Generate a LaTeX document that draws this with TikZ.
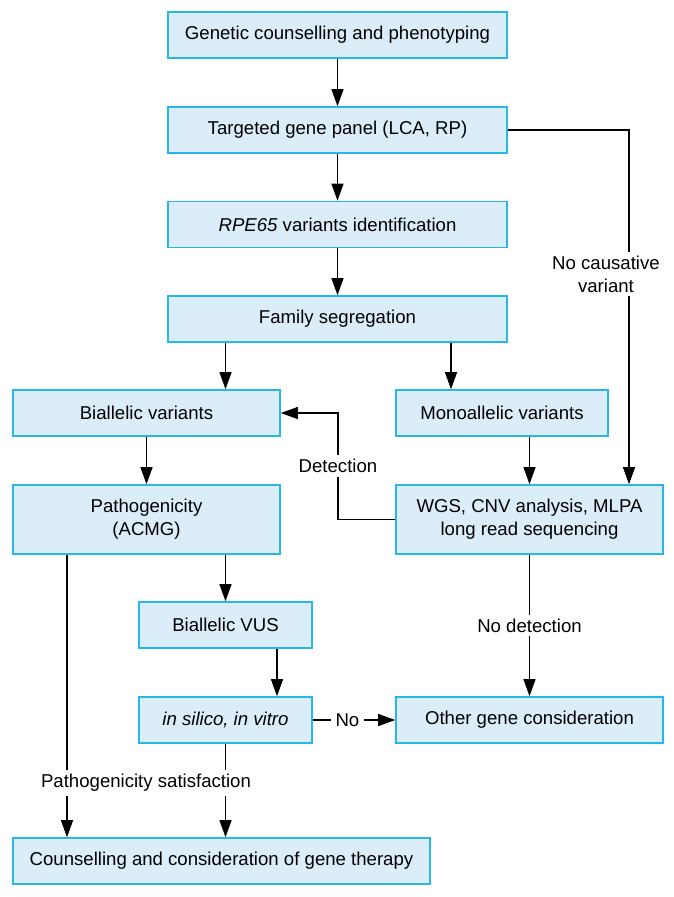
\documentclass[tikz,border=0pt]{standalone}
\usepackage{fontspec}
\setmainfont{Liberation Sans}
\usepackage{tikz}
\usetikzlibrary{positioning,arrows.meta}
\definecolor{boxfill}{RGB}{220,237,250}
\definecolor{boxline}{RGB}{41,182,232}

\begin{document}
\begin{tikzpicture}[
            x=1pt, y=-1pt,
            font=\fontsize{18.6}{23}\selectfont,
            stage/.style={rectangle, draw=boxline, fill=boxfill, line width=1.6pt, minimum height=46pt, inner sep=0pt, align=center},
            link/.style={draw=black, line width=1.1pt, -{Triangle[length=17pt, width=12pt]}},
            tag/.style={fill=white, inner sep=4pt, align=center}
        ]
        
        \useasboundingbox (0,0) rectangle (673,897);
        
        % Main column
        \node[stage, minimum width=339pt] (gcp) at (337.5,35) {Genetic counselling and phenotyping};
        \node[stage, minimum width=339pt] (panel) at (337.5,130) {Targeted gene panel (LCA, RP)};
        \node[stage, minimum width=339pt] (rpe) at (337.5,224.5) {\textit{RPE65} variants identification};
        \node[stage, minimum width=339pt] (fam) at (337.5,319) {Family segregation};
        
        % Branches
        \node[stage, minimum width=267pt] (bi) at (146.5,413) {Biallelic variants};
        \node[stage, minimum width=212pt] (mono) at (502,413) {Monoallelic variants};
        \node[stage, minimum width=267pt, minimum height=69pt] (path) at (146.5,519.5) {Pathogenicity\\(ACMG)};
        \node[stage, minimum width=267pt, minimum height=69pt] (wgs) at (529.5,519.5) {WGS, CNV analysis, MLPA\\long read sequencing};
        \node[stage, minimum width=173pt] (vus) at (225.5,625) {Biallelic VUS};
        \node[stage, minimum width=173pt] (silico) at (225.5,720) {\textit{in silico, in vitro}};
        \node[stage, minimum width=267pt] (other) at (529.5,720) {Other gene consideration};
        \node[stage, minimum width=417pt] (couns) at (221.5,861) {Counselling and consideration of gene therapy};
        
        % Connector columns
        \coordinate (xa) at (67,0);
        \coordinate (xd) at (277,0);
        \coordinate (xe) at (338,0);
        \coordinate (xf) at (451,0);
        \coordinate (xh) at (629,0);
        
        % Connections
        \draw[link] (gcp) -- (panel);
        \draw[link] (panel) -- (rpe);
        \draw[link] (rpe) -- (fam);
        \draw[link] (fam.south -| vus.north) -- (bi.north -| vus.north);
        \draw[link] (fam.south -| xf) -- (mono.north -| xf);
        \draw[link] (bi) -- (path);
        \draw[link] (mono.south -| wgs.north) -- (wgs);
        \draw[link] (panel.east) -- (panel.east -| xh) -- (wgs.north -| xh);
        \draw[link] (wgs.west) -- (wgs.west -| xe) -- node[tag] {Detection} (bi.east -| xe) -- (bi.east);
        \draw[link] (path.south -| vus.north) -- (vus);
        \draw[link] (vus.south -| xd) -- (silico.north -| xd);
        \draw[link] (wgs) -- node[tag] {No detection} (other);
        \draw[link] (silico) -- node[tag, pos=0.42, inner sep=5pt] {No} (other);
        \draw[link] (path.south -| xa) -- (couns.north -| xa);
        \draw[link] (silico) -- (couns.north -| silico.south);
        
        % Labels laid over the lines
        \node[tag] (nocaus) at (606,274) {No causative\\variant};
        \node[tag] (sat) at (146,783) {Pathogenicity satisfaction};
        
        \end{tikzpicture}
\end{document}
